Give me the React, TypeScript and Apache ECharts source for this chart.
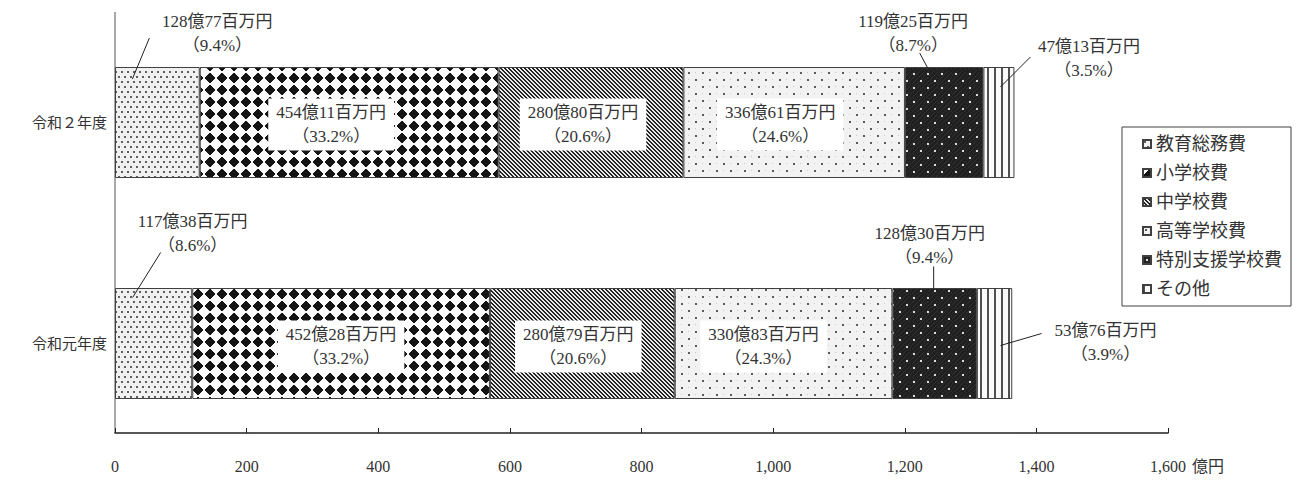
import React, { useEffect, useRef } from 'react';
import * as echarts from 'echarts';

// ---- data ----
const years = ['令和元年度', '令和２年度'];
const categories = ['教育総務費', '小学校費', '中学校費', '高等学校費', '特別支援学校費', 'その他'];
// amounts in 百万円
const amountR1 = [11738, 45228, 28079, 33083, 12830, 5376];
const amountR2 = [12877, 45411, 28080, 33661, 11925, 4713];
const pctR1 = [8.6, 33.2, 20.6, 24.3, 9.4, 3.9];
const pctR2 = [9.4, 33.2, 20.6, 24.6, 8.7, 3.5];
const xMin = 0;
const xMax = 1600;
const xInterval = 200;
const unitLabel = '億円';

// ---- layout / styling (not data) ----
const FONT = "'Liberation Serif', 'Noto Sans CJK JP', serif";
const TEXT = '#333333';
const internal = [1, 2, 3];
// label offsets relative to segment centre: [series][yearIndex]
const labelOffsets: Record<number, number[][]> = {
  0: [[39, -110], [60, -89]],
  1: [[0, 3], [-18, 2]],
  2: [[-4, 3], [-8, 2]],
  3: [[-20, 3], [-14, 2]],
  4: [[-5, -98], [-31, -89]],
  5: [[111, -1], [90, -64]],
};
const leaderLines = [
  { s: 0, y: 1, from: [-25, -43.5], to: [-8, -84.5] },
  { s: 4, y: 1, from: [-16.5, -54.5], to: [-24.5, -69.5] },
  { s: 5, y: 1, from: [1.5, -35.5], to: [31.5, -65.5] },
  { s: 0, y: 0, from: [-21, -46], to: [7, -91] },
  { s: 4, y: 0, from: [-1, -55], to: [-1, -77] },
  { s: 5, y: 0, from: [6, 2], to: [47, -10] },
];

type RGB = [number, number, number];
function tile(w: number, h: number, fn: (x: number, y: number) => RGB) {
  const c = document.createElement('canvas');
  c.width = w;
  c.height = h;
  const ctx = c.getContext('2d')!;
  const img = ctx.createImageData(w, h);
  for (let y = 0; y < h; y++) {
    for (let x = 0; x < w; x++) {
      const [r, g, b] = fn(x, y);
      const k = (y * w + x) * 4;
      img.data[k] = r;
      img.data[k + 1] = g;
      img.data[k + 2] = b;
      img.data[k + 3] = 255;
    }
  }
  ctx.putImageData(img, 0, 0);
  return { image: c.toDataURL(), repeat: 'repeat', imageWidth: w, imageHeight: h } as any;
}
const g = (v: number): RGB => [v, v, v];
const inBox = (x: number, y: number, x0: number, y0: number, s: number) =>
  x >= x0 && x < x0 + s && y >= y0 && y < y0 + s;

function makePatterns() {
  return [
    tile(6, 10, (x, y) => (inBox(x, y, 1, 1, 2) || inBox(x, y, 4, 6, 2) ? g(95) : g(240))),
    tile(12, 12, (x, y) => (Math.abs(x + 0.5 - 6) + Math.abs(y + 0.5 - 6) <= 5.3 ? g(20) : g(250))),
    tile(4, 4, (x, y) => ((((x - y) % 4) + 4) % 4 < 2 ? g(35) : g(235))),
    tile(14, 14, (x, y) => {
      if (inBox(x, y, 2, 2, 2) || inBox(x, y, 9, 9, 2)) return g(90);
      if ((x === 9 && y === 2) || (x === 2 && y === 9)) return g(200);
      return g(242);
    }),
    tile(14, 14, (x, y) => (inBox(x, y, 3, 3, 2) || inBox(x, y, 10, 10, 2) ? g(220) : (x + y) % 5 === 0 ? g(50) : g(32))),
    tile(7, 1, (x) => (x < 2 ? g(80) : g(250))),
  ];
}

function fmt(a: number, p: number) {
  return `${Math.floor(a / 100)}億${String(a % 100).padStart(2, '0')}百万円\n（${p.toFixed(1)}%）`;
}

export default function App() {
  const ref = useRef<HTMLDivElement>(null);
  useEffect(() => {
    document.body.style.margin = '0';
    const chart = echarts.init(ref.current!, null, { renderer: 'svg' });
    const patterns = makePatterns();
    const amounts = [amountR1, amountR2];
    const pcts = [pctR1, pctR2];

    const series = categories.map((name, i) => ({
      name,
      type: 'bar',
      stack: 'total',
      barWidth: 111,
      emphasis: { disabled: true },
      itemStyle: { color: patterns[i], borderColor: '#404040', borderWidth: 1 },
      label: {
        show: true,
        position: 'inside',
        fontFamily: FONT,
        fontSize: 17,
        lineHeight: 24,
        color: TEXT,
        align: 'center',
        verticalAlign: 'middle',
      },
      data: years.map((_, yi) => ({
        value: amounts[yi][i] / 100,
        label: {
          formatter: fmt(amounts[yi][i], pcts[yi][i]),
          offset: labelOffsets[i][yi],
          ...(internal.includes(i)
            ? { backgroundColor: '#ffffff', padding: [2, 8] }
            : {}),
        },
      })),
    }));

    chart.setOption({
      animation: false,
      textStyle: { fontFamily: FONT },
      grid: { left: 115, right: 131, top: 12, height: 442 },
      legend: {
        data: categories,
        orient: 'vertical',
        left: 1122,
        top: 127,
        icon: 'rect',
        itemWidth: 8,
        itemHeight: 8,
        itemGap: 11,
        padding: [8, 9, 8, 20],
        borderColor: '#404040',
        borderWidth: 1,
        backgroundColor: '#ffffff',
        textStyle: { fontFamily: FONT, fontSize: 18, lineHeight: 18, color: TEXT },
      },
      xAxis: {
        type: 'value',
        min: xMin,
        max: xMax,
        interval: xInterval,
        offset: -21,
        name: unitLabel,
        nameLocation: 'end',
        nameGap: 24,
        nameTextStyle: {
          fontFamily: FONT,
          fontSize: 16,
          color: TEXT,
          verticalAlign: 'top',
          padding: [25, 0, 0, 0],
        },
        axisLine: { show: true, lineStyle: { color: '#222', width: 1.5 } },
        axisTick: { show: true, inside: true, length: 5, lineStyle: { color: '#222' } },
        splitLine: { show: false },
        axisLabel: {
          fontFamily: FONT,
          fontSize: 16,
          color: TEXT,
          margin: 25,
          formatter: (v: number) => v.toLocaleString('en-US'),
        },
      },
      yAxis: {
        type: 'category',
        data: years,
        axisLine: { show: false },
        axisTick: { show: false },
        axisLabel: { fontFamily: FONT, fontSize: 15, color: TEXT, margin: 8 },
      },
      series,
    } as any);

    // leader lines and y-axis line, positioned through the chart's own scales
    const graphics: any[] = [];
    const x0 = chart.convertToPixel({ gridIndex: 0 }, [0, 0]) as number[];
    graphics.push({
      type: 'line',
      shape: { x1: x0[0], y1: 12, x2: x0[0], y2: 433 },
      style: { stroke: '#555', lineWidth: 1 },
    });
    leaderLines.forEach((l) => {
      const arr = amounts[l.y];
      let start = 0;
      for (let k = 0; k < l.s; k++) start += arr[k] / 100;
      const mid = start + arr[l.s] / 200;
      const c = chart.convertToPixel({ gridIndex: 0 }, [mid, l.y]) as number[];
      graphics.push({
        type: 'line',
        z: 100,
        shape: { x1: c[0] + l.from[0], y1: c[1] + l.from[1], x2: c[0] + l.to[0], y2: c[1] + l.to[1] },
        style: { stroke: '#222', lineWidth: 1 },
      });
    });
    chart.setOption({ graphic: graphics });

    return () => chart.dispose();
  }, []);
  return <div ref={ref} style={{ width: 1299, height: 481 }} />;
}
